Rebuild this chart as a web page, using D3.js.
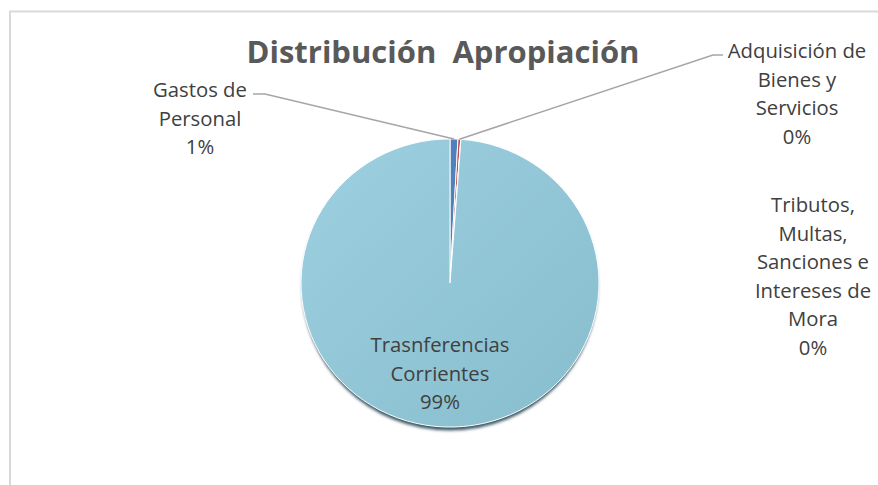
<!DOCTYPE html>
<html>
<head>
<meta charset="utf-8">
<script src="https://cdn.jsdelivr.net/npm/d3@7"></script>
<style>
  body { margin: 0; background: #fff; }
  svg { display: block; }
  text { font-family: "Open Sans", sans-serif; }
</style>
</head>
<body>
<div id="pie"></div>
<script>
var categories = [
    "Gastos de Personal",
    "Adquisición de Bienes y Servicios",
    "Tributos, Multas, Sanciones e Intereses de Mora",
    "Trasnferencias Corrientes"
];
var values = [0.85, 0.3, 0.02, 98.83];
var percentLabels = ["1%", "0%", "0%", "99%"];
var labelLines = [
    ["Gastos de", "Personal"],
    ["Adquisición de", "Bienes y", "Servicios"],
    ["Tributos,", "Multas,", "Sanciones e", "Intereses de", "Mora"],
    ["Trasnferencias", "Corrientes"]
];
var colors = ["#4f81bd", "#c0504d", "#9bbb59", "url(#blueGrad)"];

function PieChart() {
    var w = 878;
    var h = 485;
    var cx = 450, cy = 283;
    var outerRadius = 149;
    var squash = 0.967;

    var svg = d3.select("#pie")
                .append("svg")
                .attr("width", w)
                .attr("height", h);

    var defs = svg.append("defs");
    var grad = defs.append("linearGradient")
                .attr("id", "blueGrad")
                .attr("gradientUnits", "userSpaceOnUse")
                .attr("x1", -outerRadius).attr("y1", -outerRadius)
                .attr("x2", outerRadius).attr("y2", outerRadius);
    grad.append("stop").attr("offset", "0%").attr("stop-color", "#9dd0e1");
    grad.append("stop").attr("offset", "100%").attr("stop-color", "#87bdcd");

    var blur = defs.append("filter").attr("id", "shadow")
                .attr("x", "-20%").attr("y", "-20%").attr("width", "140%").attr("height", "140%");
    blur.append("feGaussianBlur").attr("stdDeviation", 1.6);

    // chart frame
    svg.append("path")
        .attr("d", "M10," + h + " V11.5 H" + w)
        .attr("fill", "none")
        .attr("stroke", "#d9d9d9")
        .attr("stroke-width", 2);

    svg.append("text")
        .attr("x", 443)
        .attr("y", 63)
        .attr("text-anchor", "middle")
        .style("white-space", "pre")
        .style("font-size", "31px")
        .style("font-weight", "bold")
        .style("fill", "#595959")
        .text("Distribución  Apropiación");

    var arc = d3.arc()
                .outerRadius(outerRadius)
                .innerRadius(0);

    var pie = d3.pie().sort(null);
    var slices = pie(values);

    var g = svg.append("g")
                .attr("transform", "translate(" + cx + "," + cy + ") scale(1," + squash + ")");

    // soft drop shadow under the disc
    g.append("ellipse")
        .attr("cx", 0).attr("cy", 3.5)
        .attr("rx", outerRadius - 1).attr("ry", outerRadius)
        .attr("fill", "#3d5a66")
        .attr("filter", "url(#shadow)");

    g.selectAll("path.arc")
        .data(slices)
        .enter()
        .append("path")
        .attr("class", "arc")
        .attr("fill", function(d, i){ return colors[i]; })
        .attr("stroke", "#fff")
        .attr("stroke-width", 1)
        .attr("d", arc);

    // label anchors (outside labels with leader lines for the tiny slices)
    var labelPos = [
        { x: 200, y: 97, line: [253, 265] },
        { x: 797, y: 58, line: [723, 713] },
        { x: 813, y: 212 },
        { x: 440, y: 352 }
    ];
    var lineGap = 28.5;

    slices.forEach(function(d, i) {
        var p = labelPos[i];
        if (p.line) {
            var a = (d.startAngle + d.endAngle) / 2;
            var ex = cx + Math.sin(a) * outerRadius;
            var ey = cy - Math.cos(a) * outerRadius * squash;
            svg.append("polyline")
                .attr("points", [[p.line[0], p.y - 3], [p.line[1], p.y - 3], [ex, ey]].join(" "))
                .attr("fill", "none")
                .attr("stroke", "#a6a6a6")
                .attr("stroke-width", 1.5);
        }
        var t = svg.append("text")
                .attr("text-anchor", "middle")
                .style("font-size", "20.3px")
                .style("fill", "#404040");
        labelLines[i].concat([percentLabels[i]]).forEach(function(s, k) {
            t.append("tspan")
                .attr("x", p.x)
                .attr("y", p.y + k * lineGap)
                .text(s);
        });
    });
}

function init(){
    PieChart();
}
window.onload = init;
</script>
</body>
</html>
